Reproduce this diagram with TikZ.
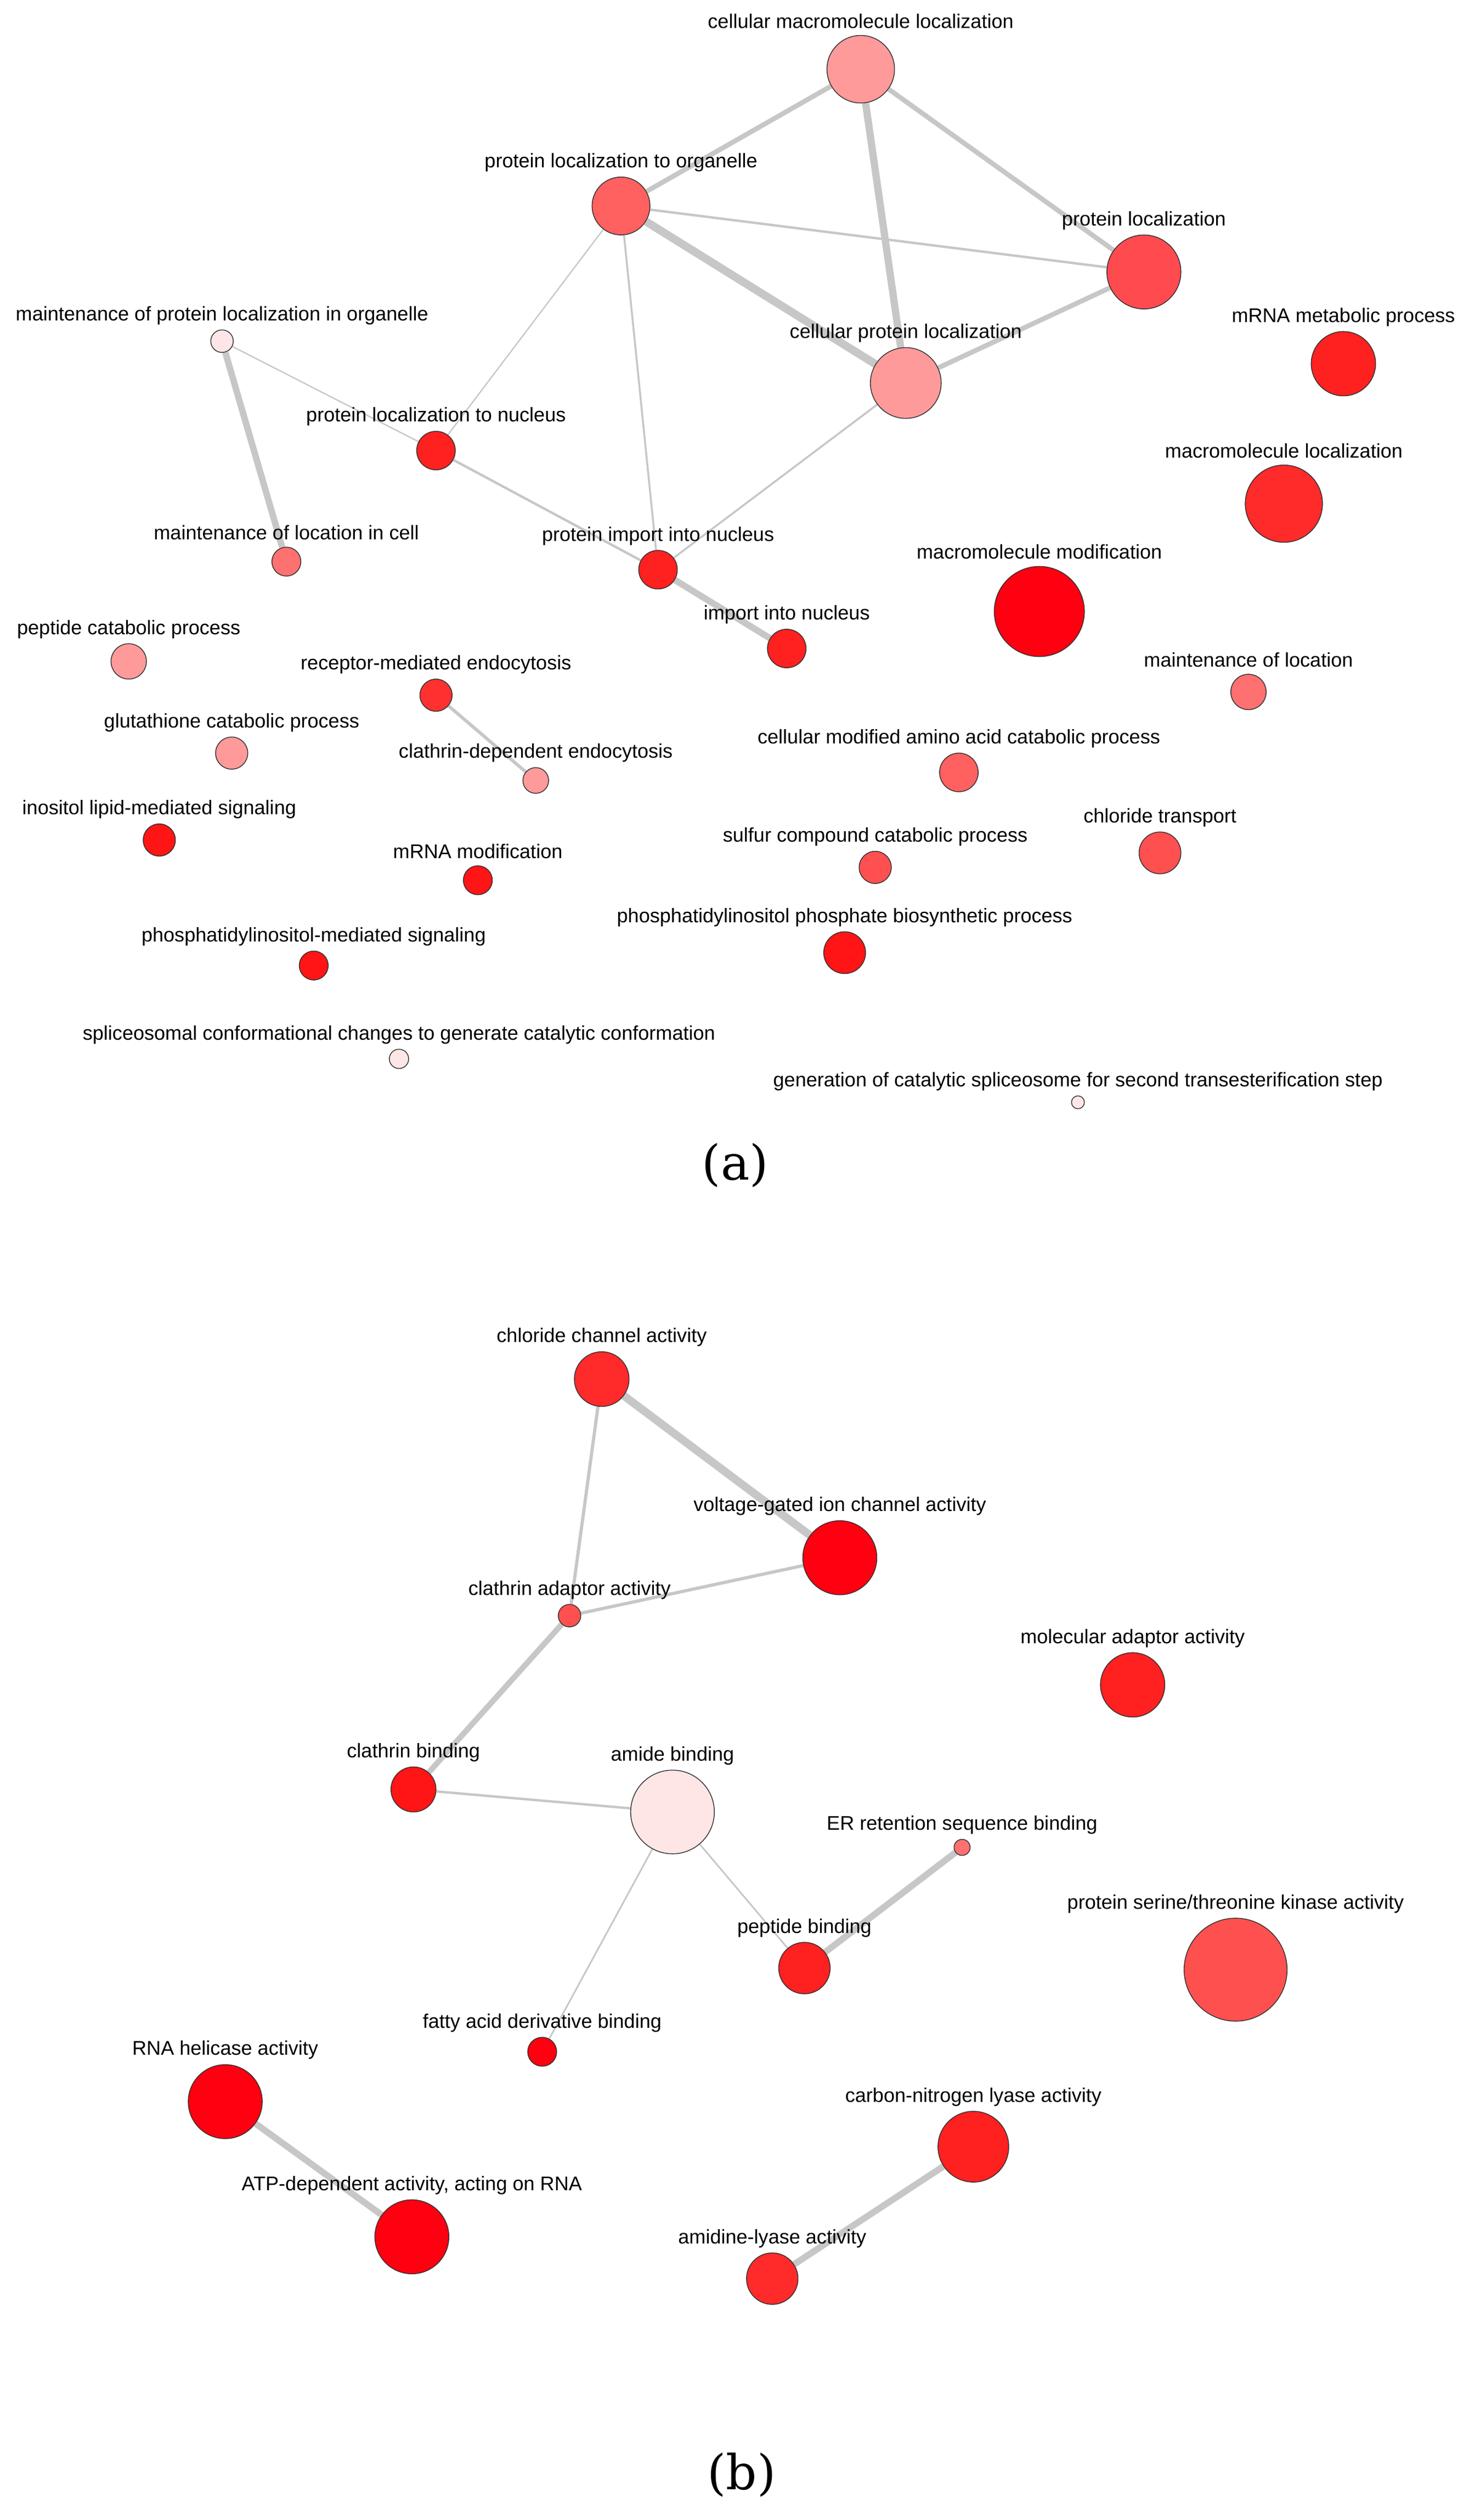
\documentclass[tikz,border=0pt]{standalone}
\usepackage{fontspec}
\setmainfont{Liberation Sans}
\newfontfamily\capfont{DejaVu Serif}
\pgfdeclarelayer{bg}\pgfsetlayers{bg,main}
\newcommand{\GN}[7]{% name x y r color label
 \node[gn,minimum size=#4*2pt,fill=#5] (#1) at (#2,#3) {};
 \node[lab] (#1l) at (#2,#3-#4-9) {#6};}
\tikzset{gn/.style={circle,draw=black!80,line width=0.5pt,inner sep=0pt},
 lab/.style={font=\fontsize{12.3}{13}\selectfont,inner sep=0pt},
 ed/.style={draw=black!22,line width=#1pt}}
\definecolor{c1}{HTML}{FF9A9A}\definecolor{c2}{HTML}{FF6060}\definecolor{c3}{HTML}{FF4A50}
\definecolor{c4}{HTML}{FF2020}\definecolor{c5}{HTML}{FFE6E6}\definecolor{c6}{HTML}{FF2A2A}
\definecolor{c7}{HTML}{FF7070}\definecolor{c8}{HTML}{FF0010}\definecolor{c9}{HTML}{FF3030}
\definecolor{c10}{HTML}{FF1515}\definecolor{c11}{HTML}{FF5050}
\begin{document}
\begin{tikzpicture}[x=1pt,y=-1pt]
\useasboundingbox (0,0) rectangle (913,1566);
\GN{cml}{535}{43}{21}{c1}{cellular macromolecule localization}{}
\GN{plo}{386}{128}{18}{c2}{protein localization to organelle}{}
\GN{pl}{711}{169}{23}{c3}{protein localization}{}
\GN{mmp}{835}{226}{20}{c4}{mRNA metabolic process}{}
\GN{cpl}{563}{238}{22}{c1}{cellular protein localization}{}
\GN{mpo}{138}{212}{7}{c5}{maintenance of protein localization in organelle}{}
\GN{pln}{271}{280}{12}{c4}{protein localization to nucleus}{}
\GN{ml}{798}{313}{24}{c6}{macromolecule localization}{}
\GN{mlc}{178}{349}{9}{c7}{maintenance of location in cell}{}
\GN{pin}{409}{354}{12}{c4}{protein import into nucleus}{}
\GN{mm}{646}{380}{28}{c8}{macromolecule modification}{}
\GN{iin}{489}{403}{12}{c4}{import into nucleus}{}
\GN{pcp}{80}{411}{11}{c1}{peptide catabolic process}{}
\GN{rme}{271}{432}{10}{c9}{receptor-mediated endocytosis}{}
\GN{mol}{776}{430}{11}{c7}{maintenance of location}{}
\GN{gcp}{144}{468}{10}{c1}{glutathione catabolic process}{}
\GN{cde}{333}{485}{8}{c1}{clathrin-dependent endocytosis}{}
\GN{cma}{596}{480}{12}{c2}{cellular modified amino acid catabolic process}{}
\GN{ils}{99}{522}{10}{c10}{inositol lipid-mediated signaling}{}
\GN{ct}{721}{530}{13}{c11}{chloride transport}{}
\GN{mrm}{297}{547}{9}{c10}{mRNA modification}{}
\GN{scc}{544}{539}{10}{c11}{sulfur compound catabolic process}{}
\GN{pms}{195}{600}{9}{c10}{phosphatidylinositol-mediated signaling}{}
\GN{ppb}{525}{592}{13}{c10}{phosphatidylinositol phosphate biosynthetic process}{}
\GN{scc2}{248}{658}{6}{c5}{spliceosomal conformational changes to generate catalytic conformation}{}
\GN{gcs}{670}{685}{4}{c5}{generation of catalytic spliceosome for second transesterification step}{}
\node[font=\capfont\fontsize{30}{32}\selectfont] (capa) at (457,724) {(a)};
\GN{cca}{374}{857}{17}{c6}{chloride channel activity}{}
\GN{vg}{522}{968}{23}{c8}{voltage-gated ion channel activity}{}
\GN{caa}{354}{1004}{7}{c11}{clathrin adaptor activity}{}
\GN{maa}{704}{1047}{20}{c4}{molecular adaptor activity}{}
\GN{cb}{257}{1112}{14}{c10}{clathrin binding}{}
\GN{ab}{418}{1126}{26}{c5}{amide binding}{}
\GN{er}{598}{1148}{5}{c7}{ER retention sequence binding}{}
\GN{pst}{768}{1224}{32}{c11}{protein serine/threonine kinase activity}{}
\GN{pb}{500}{1223}{16}{c4}{peptide binding}{}
\GN{fa}{337}{1275}{9}{c8}{fatty acid derivative binding}{}
\GN{rh}{140}{1306}{23}{c8}{RNA helicase activity}{}
\GN{cn}{605}{1334}{22}{c4}{carbon-nitrogen lyase activity}{}
\GN{atp}{256}{1390}{23}{c8}{ATP-dependent activity, acting on RNA}{}
\GN{al}{480}{1416}{16}{c6}{amidine-lyase activity}{}
\node[font=\capfont\fontsize{30}{32}\selectfont] (capb) at (461,1538) {(b)};
\begin{pgfonlayer}{bg}
\fill[white] (0,0) rectangle (913,1566);
\draw[ed=3] (cml) -- (plo); \draw[ed=3] (cml) -- (pl); \draw[ed=4.5] (cml) -- (cpl);
\draw[ed=1.5] (plo) -- (pl); \draw[ed=5] (plo) -- (cpl); \draw[ed=0.8] (plo) -- (pln);
\draw[ed=1.2] (plo) -- (pin); \draw[ed=3] (pl) -- (cpl); \draw[ed=1.2] (cpl) -- (pin);
\draw[ed=0.8] (pln) -- (mpo); \draw[ed=1.5] (pln) -- (pin); \draw[ed=4] (mpo) -- (mlc);
\draw[ed=4] (pin) -- (iin); \draw[ed=2] (rme) -- (cde);
\draw[ed=5] (cca) -- (vg); \draw[ed=2] (cca) -- (caa); \draw[ed=2] (caa) -- (vg);
\draw[ed=3.5] (caa) -- (cb); \draw[ed=1.5] (cb) -- (ab); \draw[ed=1] (ab) -- (pb);
\draw[ed=1] (ab) -- (fa); \draw[ed=4] (pb) -- (er); \draw[ed=4] (rh) -- (atp);
\draw[ed=4] (cn) -- (al);
\end{pgfonlayer}
\end{tikzpicture}
\end{document}
